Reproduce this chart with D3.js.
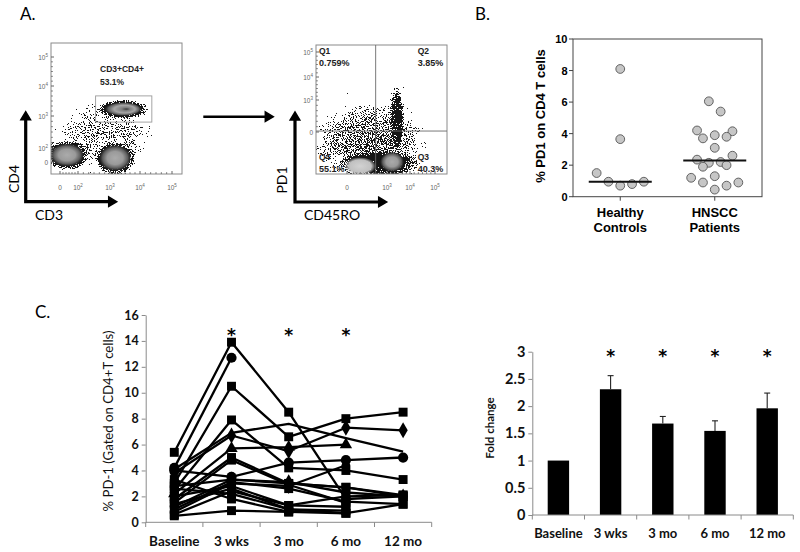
<!DOCTYPE html>
<html>
<head>
<meta charset="utf-8">
<script src="https://cdn.jsdelivr.net/npm/d3@7/dist/d3.min.js"></script>
<style>
body{margin:0;background:#fff;}
svg{display:block;}
</style>
</head>
<body>
<svg id="fig" width="800" height="552" viewBox="0 0 800 552"></svg>
<script>
// ================= DATA =================
// Panel A – flow cytometry (decade units: 0 = "0", n = 10^n)
const flowTicksA1 = [0, 2, 3, 4, 5];
const flowTicksA2 = [0, 3, 4, 5];
const cd4Populations = [
  {name: "haze", x: 2.84, y: 2.41},
  {name: "dn",   x: 0.78, y: 1.0},
  {name: "cd3",  x: 3.17, y: 0.57},
  {name: "cd4",  x: 3.43, y: 3.23}
];
const cd4Gate = {x0: 2.55, x1: 4.37, y0: 2.81, y1: 3.67};
const gateLabel = ["CD3+CD4+", "53.1%"];
const pd1Populations = [
  {name: "haze",  x: 1.7,  y: -0.75},
  {name: "band",  x: 2.33, y: -2.9},
  {name: "tail",  x: 3.43, y: 0.94},
  {name: "q4",    x: 0.98, y: -3.2},
  {name: "q3",    x: 3.22, y: -2.8}
];
const quadrantSplit = {x: 2.15, y: 0.09};
const quadrantNames = ["Q1", "Q2", "Q3", "Q4"];
const quadrantPct = ["0.759%", "3.85%", "40.3%", "55.1%"];

// Panel B – % PD1 on CD4 T cells
const groups = ["Healthy Controls", "HNSCC Patients"];
const healthyPD1 = [8.1, 3.65, 1.5, 0.95, 0.7, 0.8, 0.95];
const healthySlot = [0, 0, -4, -2, 0, 2, 4];
const hnsccPD1 = [6.05, 5.4, 4.2, 4.15, 3.7, 3.9, 3.8, 3.1, 2.35, 2.6, 2.15, 2.2, 1.9, 2.0, 1.2, 1.3, 0.9, 0.9, 0.7, 0.45];
const hnsccSlot = [-1, 1, -3, 3, -2, 0, 2, 0, -3, 3, -1, 1, -2, 2, -4, 0, -2, 4, 2, 0];
const groupMedians = [0.95, 2.3];
const pd1Ticks = [0, 2, 4, 6, 8, 10];

// Panel C – timecourse
const timepoints = ["Baseline", "3 wks", "3 mo", "6 mo", "12 mo"];
const patientPD1 = [
  [5.4, 13.9, 8.5, 1.8, 2.0],
  [4.2, 12.7, null, null, null],
  [3.0, 10.5, 6.6, 8.0, 8.5],
  [2.5, 7.9, 4.2, 4.0, 3.3],
  [4.1, 6.9, 7.6, 6.5, 5.45],
  [3.8, 6.7, 5.5, 7.3, 7.1],
  [2.2, 5.7, 5.8, 6.0, null],
  [1.8, 5.0, 3.0, 2.7, 2.1],
  [1.5, 4.8, 2.9, 1.5, null],
  [4.0, 3.5, 4.6, 4.8, 5.0],
  [1.2, 3.3, 3.1, 2.3, 2.0],
  [1.0, 3.1, 2.6, 1.6, 1.4],
  [0.8, 3.0, 2.8, 4.4, null],
  [2.0, 2.8, 1.3, 1.2, null],
  [1.4, 2.6, 1.0, 0.9, null],
  [0.6, 2.4, 1.3, 2.0, 2.1],
  [2.6, 2.2, 1.0, 0.7, 1.4],
  [0.5, 0.9, 0.8, 0.7, null],
  [3.3, 1.8, 0.8, null, null],
  [2.8, 3.3, 3.0, 2.7, 2.0]
];
const patientMarker = ["square", "circle", "square", "square", "none", "diamond", "triangle", "square", "square", "circle",
  "diamond", "square", "diamond", "square", "square", "square", "square", "square", "square", "square"];
const pctTicks = [0, 2, 4, 6, 8, 10, 12, 14, 16];
const lineSig = [false, true, true, true, false];

// Fold change bars
const foldMean = [1.0, 2.31, 1.68, 1.545, 1.96];
const foldSEM = [0, 0.25, 0.13, 0.185, 0.28];
const foldTicks = [0, 0.5, 1, 1.5, 2, 2.5, 3];
const foldSig = [false, true, true, true, true];

// ================= DRAW =================
const CAL = "Lato, 'Open Sans', sans-serif";
const ARI = "'Liberation Sans', Arial, sans-serif";
const AXC = "#8a8a8a";
const svg = d3.select("#fig");
svg.append("rect").attr("width", 800).attr("height", 552).attr("fill", "#fff");
const defs = svg.append("defs");

// speckle filter (dot density follows alpha)
const f = defs.append("filter").attr("id", "speck").attr("x", "-5%").attr("y", "-5%")
  .attr("width", "110%").attr("height", "110%").attr("color-interpolation-filters", "sRGB");
f.append("feTurbulence").attr("type", "fractalNoise").attr("baseFrequency", "0.95").attr("numOctaves", 2).attr("seed", 5).attr("result", "n");
f.append("feColorMatrix").attr("in", "n").attr("type", "matrix").attr("values", "0 0 0 0 0 0 0 0 0 0 0 0 0 0 0 1 0 0 0 0").attr("result", "na");
f.append("feComposite").attr("in", "SourceAlpha").attr("in2", "na").attr("operator", "arithmetic")
  .attr("k1", 0).attr("k2", 1).attr("k3", 1.4).attr("k4", -1.05).attr("result", "sum");
f.append("feComponentTransfer").attr("in", "sum").attr("result", "th")
  .append("feFuncA").attr("type", "discrete").attr("tableValues", "0 1 1 1 1 1 1 1");
f.append("feFlood").attr("flood-color", "#161616").attr("result", "fl");
f.append("feComposite").attr("in", "fl").attr("in2", "th").attr("operator", "in");

const hg = defs.append("radialGradient").attr("id", "haloG");
[[0, 1], [0.55, 0.85], [0.8, 0.45], [1, 0]].forEach(s => hg.append("stop").attr("offset", s[0]).attr("stop-color", "#000").attr("stop-opacity", s[1]));
const cg = defs.append("radialGradient").attr("id", "coreG");
[[0, "#ababab", 1], [0.5, "#9a9a9a", 1], [0.78, "#5e5e5e", 1], [0.92, "#303030", 0.8], [1, "#303030", 0]].forEach(s =>
  cg.append("stop").attr("offset", s[0]).attr("stop-color", s[1]).attr("stop-opacity", s[2]));
const cg2 = defs.append("radialGradient").attr("id", "coreL");
[[0, "#d2d2d2", 1], [0.7, "#c0c0c0", 1], [1, "#c0c0c0", 0]].forEach(s =>
  cg2.append("stop").attr("offset", s[0]).attr("stop-color", s[1]).attr("stop-opacity", s[2]));
const cg3 = defs.append("radialGradient").attr("id", "coreD").attr("fx", "0.6");
[[0, "#3a3a3a", 1], [0.22, "#7e7e7e", 1], [0.55, "#a6a6a6", 1], [0.82, "#5a5a5a", 1], [1, "#202020", 0]].forEach(s =>
  cg3.append("stop").attr("offset", s[0]).attr("stop-color", s[1]).attr("stop-opacity", s[2]));

// panel letters
svg.append("text").attr("x", 20).attr("y", 20).attr("font-family", CAL).attr("font-size", 17).text("A.");
svg.append("text").attr("x", 475).attr("y", 20).attr("font-family", CAL).attr("font-size", 17).text("B.");
svg.append("text").attr("x", 35).attr("y", 318).attr("font-family", CAL).attr("font-size", 17).text("C.");

// ---------- Panel A ----------
function tickLabel(sel, d) {
  if (d === 0) { sel.text("0"); return; }
  sel.append("tspan").text("10");
  sel.append("tspan").attr("font-size", 4.5).attr("dy", -3).text(d);
}
function arrowHead(g, x, y, dir, s) {
  const pts = dir === "up" ? [[x - s * 0.6, y + s], [x, y], [x + s * 0.6, y + s]]
    : [[x - s, y - s * 0.6], [x, y], [x - s, y + s * 0.6]];
  g.append("path").attr("d", `M${pts[0]}L${pts[1]}L${pts[2]}Z`).attr("fill", "#000").attr("stroke", "#000").attr("stroke-width", 1.5).attr("stroke-linejoin", "miter");
}
function flowPlot(box, fx, fy, ticksX, ticksY, id, pops, shapes) {
  const g = svg.append("g");
  defs.append("clipPath").attr("id", id).append("rect").attr("x", box.x).attr("y", box.y).attr("width", box.w).attr("height", box.h);
  const inner = g.append("g").attr("clip-path", `url(#${id})`);
  pops.forEach(p => {
    const s = shapes[p.name];
    const cx = fx(p.x), cy = fy(p.y);
    if (s.halo) inner.append("ellipse").attr("cx", cx).attr("cy", cy).attr("rx", s.rx * s.halo).attr("ry", s.ry * s.halo)
      .attr("fill", "url(#haloG)").attr("fill-opacity", s.op).attr("filter", "url(#speck)");
  });
  pops.forEach(p => {
    const s = shapes[p.name];
    if (s.core) inner.append("ellipse").attr("cx", fx(p.x)).attr("cy", fy(p.y)).attr("rx", s.rx).attr("ry", s.ry)
      .attr("fill", `url(#${s.core})`);
  });
  g.append("rect").attr("x", box.x).attr("y", box.y).attr("width", box.w).attr("height", box.h)
    .attr("fill", "none").attr("stroke", "#8a8a8a").attr("stroke-width", 1);
  ticksX.forEach(d => {
    g.append("line").attr("x1", fx(d)).attr("x2", fx(d)).attr("y1", box.y + box.h).attr("y2", box.y + box.h - 3).attr("stroke", "#666");
    g.append("text").attr("x", fx(d)).attr("y", box.y + box.h + 16).attr("text-anchor", "middle")
      .attr("font-family", ARI).attr("font-size", 6.5).attr("fill", "#666").call(tickLabel, d);
  });
  ticksY.forEach(d => {
    g.append("line").attr("x1", box.x).attr("x2", box.x + 3).attr("y1", fy(d)).attr("y2", fy(d)).attr("stroke", "#666");
    g.append("text").attr("x", box.x - 3).attr("y", fy(d) + 2.5).attr("text-anchor", "end")
      .attr("font-family", ARI).attr("font-size", 6.5).attr("fill", "#666").call(tickLabel, d);
  });
  for (let i = 0; i < ticksX.length - 1; i++) {
    const a = fx(ticksX[i]), b = fx(ticksX[i + 1]);
    for (let k = 1; k < 6; k++) {
      const xx = a + (b - a) * k / 6;
      g.append("line").attr("x1", xx).attr("x2", xx).attr("y1", box.y + box.h).attr("y2", box.y + box.h - 1.8).attr("stroke", "#777");
    }
  }
  for (let i = 0; i < ticksY.length - 1; i++) {
    const a = fy(ticksY[i]), b = fy(ticksY[i + 1]);
    for (let k = 1; k < 6; k++) {
      const yy = a + (b - a) * k / 6;
      g.append("line").attr("x1", box.x).attr("x2", box.x + 1.8).attr("y1", yy).attr("y2", yy).attr("stroke", "#777");
    }
  }
  return g;
}

// plot 1: CD3 vs CD4
const fx1 = d3.scaleLinear().domain([0, 2, 3, 4, 5]).range([60, 78, 110, 140, 172]);
const fy1 = d3.scaleLinear().domain([0, 2, 3, 4, 5]).range([162, 148, 116, 86, 57]);
const shapes1 = {
  haze: {rx: 52, ry: 38, halo: 1, op: 0.4},
  dn:   {rx: 17, ry: 11.5, halo: 1.45, op: 1, core: "coreG"},
  cd3:  {rx: 16, ry: 13, halo: 1.45, op: 1, core: "coreG"},
  cd4:  {rx: 19, ry: 7, halo: 1.5, op: 1, core: "coreD"}
};
const g1 = flowPlot({x: 51, y: 43, w: 131, h: 131}, fx1, fy1, flowTicksA1, flowTicksA1, "clip1", cd4Populations, shapes1);
g1.append("rect").attr("x", fx1(cd4Gate.x0)).attr("y", fy1(cd4Gate.y1))
  .attr("width", fx1(cd4Gate.x1) - fx1(cd4Gate.x0)).attr("height", fy1(cd4Gate.y0) - fy1(cd4Gate.y1))
  .attr("fill", "none").attr("stroke", "#9a9a9a").attr("stroke-width", 0.9);
g1.append("text").attr("x", 100).attr("y", 72).attr("font-family", ARI).attr("font-weight", "bold").attr("font-size", 8.5).attr("fill", "#222").text(gateLabel[0]);
g1.append("text").attr("x", 100).attr("y", 85).attr("font-family", ARI).attr("font-weight", "bold").attr("font-size", 8.5).attr("fill", "#222").text(gateLabel[1]);

// plot 2: CD45RO vs PD1
const fx2 = d3.scaleLinear().domain([0, 3, 4, 5]).range([347, 387, 410, 435]);
const fy2 = d3.scaleLinear().domain([0, 3, 4, 5]).range([132, 100, 77, 52]);
const shapes2 = {
  haze: {rx: 64, ry: 42, halo: 1, op: 0.5},
  band: {rx: 44, ry: 15, halo: 1.1, op: 0.85},
  tail: {rx: 9, ry: 40, halo: 1, op: 0.8},
  q4:   {rx: 16, ry: 9, core: "coreL"},
  q3:   {rx: 12, ry: 10, core: "coreG"}
};
const g2 = flowPlot({x: 316, y: 45, w: 131, h: 129}, fx2, fy2, flowTicksA2, flowTicksA2, "clip2", pd1Populations, shapes2);
g2.append("line").attr("x1", fx2(quadrantSplit.x)).attr("x2", fx2(quadrantSplit.x)).attr("y1", 45).attr("y2", 174).attr("stroke", "#6a6a6a").attr("stroke-width", 0.9);
g2.append("line").attr("x1", 316).attr("x2", 447).attr("y1", fy2(quadrantSplit.y)).attr("y2", fy2(quadrantSplit.y)).attr("stroke", "#6a6a6a").attr("stroke-width", 0.9);
const qPos = [[319, 53.5], [417.7, 53.5], [417.7, 159.5], [319, 159.5]];
quadrantNames.forEach((q, i) => {
  g2.append("text").attr("x", qPos[i][0]).attr("y", qPos[i][1]).attr("font-family", ARI).attr("font-weight", "bold").attr("font-size", 8.5).attr("fill", "#222").text(q);
  g2.append("text").attr("x", qPos[i][0]).attr("y", qPos[i][1] + 12.5).attr("font-family", ARI).attr("font-weight", "bold").attr("font-size", 9).attr("fill", "#222").text(quadrantPct[i]);
});

// axis arrows
const ga = svg.append("g");
[[25.7, 201.7, 116.7, 111.7], [295, 202, 386.7, 112]].forEach(a => {
  ga.append("path").attr("d", `M${a[0]},${a[3] + 6}V${a[1]}H${a[2] - 6}`).attr("fill", "none").attr("stroke", "#000").attr("stroke-width", 3.2).attr("stroke-linejoin", "miter");
  arrowHead(ga, a[0], a[3], "up", 8);
  arrowHead(ga, a[2], a[1], "right", 8);
});
ga.append("line").attr("x1", 203.3).attr("x2", 267).attr("y1", 116.7).attr("y2", 116.7).attr("stroke", "#000").attr("stroke-width", 2.4);
arrowHead(ga, 273.3, 116.7, "right", 8);
ga.append("text").attr("transform", "translate(18.5,179) rotate(-90)").attr("text-anchor", "middle").attr("font-family", CAL).attr("font-size", 14).text("CD4");
ga.append("text").attr("x", 35).attr("y", 220).attr("font-family", CAL).attr("font-size", 14).text("CD3");
ga.append("text").attr("transform", "translate(287,180) rotate(-90)").attr("text-anchor", "middle").attr("font-family", CAL).attr("font-size", 14).text("PD1");
ga.append("text").attr("x", 304).attr("y", 220).attr("font-family", CAL).attr("font-size", 14).text("CD45RO");

// ---------- Panel B ----------
const gB = svg.append("g");
const xB = d3.scalePoint().domain(groups).range([573, 762]).padding(0.5);
const yB = d3.scaleLinear().domain([0, 10]).range([196.7, 39]);
const jit = d3.scaleLinear().domain([-1, 1]).range([-5.9, 5.9]);
gB.append("rect").attr("x", 573).attr("y", yB(10)).attr("width", 189).attr("height", yB(0) - yB(10))
  .attr("fill", "none").attr("stroke", "#444").attr("stroke-width", 1);
pd1Ticks.forEach(t => {
  gB.append("line").attr("x1", 569).attr("x2", 573).attr("y1", yB(t)).attr("y2", yB(t)).attr("stroke", "#444");
  gB.append("text").attr("x", 567.5).attr("y", yB(t) + 4).attr("text-anchor", "end").attr("font-family", ARI)
    .attr("font-weight", "bold").attr("font-size", 11).text(t);
});
groups.forEach(gname => {
  gB.append("line").attr("x1", xB(gname)).attr("x2", xB(gname)).attr("y1", yB(0)).attr("y2", yB(0) + 4).attr("stroke", "#444");
  const parts = gname.split(" ");
  gB.append("text").attr("x", xB(gname)).attr("y", 217.3).attr("text-anchor", "middle").attr("font-family", ARI).attr("font-weight", "bold").attr("font-size", 13).text(parts[0]);
  gB.append("text").attr("x", xB(gname)).attr("y", 231.7).attr("text-anchor", "middle").attr("font-family", ARI).attr("font-weight", "bold").attr("font-size", 13).text(parts[1]);
});
gB.append("text").attr("transform", "translate(545,116) rotate(-90)").attr("text-anchor", "middle").attr("font-family", ARI)
  .attr("font-weight", "bold").attr("font-size", 13).text("% PD1 on CD4 T cells");
const ptsB = healthyPD1.map((v, i) => ({g: groups[0], v, s: healthySlot[i]}))
  .concat(hnsccPD1.map((v, i) => ({g: groups[1], v, s: hnsccSlot[i]})));
gB.selectAll("circle.pt").data(ptsB).join("circle").attr("class", "pt")
  .attr("cx", d => xB(d.g) + jit(d.s)).attr("cy", d => yB(d.v)).attr("r", 4.4)
  .attr("fill", "#c6c6c6").attr("stroke", "#555").attr("stroke-width", 0.9);
groups.forEach((gname, i) => {
  gB.append("line").attr("x1", xB(gname) - 31.5).attr("x2", xB(gname) + 31.5).attr("y1", yB(groupMedians[i])).attr("y2", yB(groupMedians[i]))
    .attr("stroke", "#111").attr("stroke-width", 2);
});

// ---------- Panel C: lines ----------
const gC = svg.append("g");
const xC = d3.scaleBand().domain(timepoints).range([145.7, 431.7]);
const yC = d3.scaleLinear().domain([0, 16]).range([522.3, 315]);
const cx = t => xC(t) + xC.bandwidth() / 2;
const yAxC = gC.append("g").attr("transform", "translate(145.7,0)")
  .call(d3.axisLeft(yC).tickValues(pctTicks).tickSize(4).tickSizeOuter(0).tickPadding(3));
yAxC.selectAll("path,line").attr("stroke", AXC);
yAxC.selectAll("text").attr("font-family", CAL).attr("font-weight", "bold").attr("font-size", 12.5).attr("fill", "#111");
const xAxC = gC.append("g").attr("transform", "translate(0,522.3)").call(d3.axisBottom(xC).tickSize(0).tickPadding(14));
xAxC.select("path").remove();
xAxC.selectAll("text").attr("font-family", CAL).attr("font-weight", "bold").attr("font-size", 13.5).attr("fill", "#111");
gC.append("line").attr("x1", xC.range()[0]).attr("x2", xC.range()[1]).attr("y1", 522.3).attr("y2", 522.3).attr("stroke", AXC);
d3.range(timepoints.length + 1).forEach(i => {
  const xx = xC.range()[0] + i * xC.step();
  gC.append("line").attr("x1", xx).attr("x2", xx).attr("y1", 522.3).attr("y2", 527).attr("stroke", AXC);
});
gC.append("text").attr("transform", "translate(112.5,421) rotate(-90)").attr("text-anchor", "middle")
  .attr("font-family", CAL).attr("font-size", 13.2).attr("fill", "#111").text("% PD-1 (Gated on CD4+T cells)");
const line = d3.line().defined(d => d.v != null).x(d => cx(d.t)).y(d => yC(d.v));
const symType = {square: d3.symbolSquare, circle: d3.symbolCircle, diamond: d3.symbolDiamond, triangle: d3.symbolTriangle};
const symSize = {square: 80, circle: 82, diamond: 74, triangle: 66};
patientPD1.forEach((vals) => {
  const data = vals.map((v, j) => ({t: timepoints[j], v}));
  gC.append("path").attr("d", line(data)).attr("fill", "none").attr("stroke", "#000").attr("stroke-width", 2.3).attr("stroke-linejoin", "round");
});
patientPD1.forEach((vals, i) => {
  const m = patientMarker[i];
  if (m === "none") return;
  vals.forEach((v, j) => {
    if (v == null) return;
    gC.append("path").attr("d", d3.symbol().type(symType[m]).size(symSize[m])())
      .attr("transform", `translate(${cx(timepoints[j])},${yC(v)})`).attr("fill", "#000");
  });
});
timepoints.forEach((t, i) => {
  if (lineSig[i]) gC.append("text").attr("x", cx(t)).attr("y", 341).attr("text-anchor", "middle")
    .attr("font-family", "'DejaVu Sans', sans-serif").attr("font-weight", "bold").attr("font-size", 17).text("*");
});

// ---------- Panel C: fold change bars ----------
const gD = svg.append("g");
const xD = d3.scaleBand().domain(timepoints).range([532.3, 793.3]).paddingInner(0.59).paddingOuter(0.295);
const yD = d3.scaleLinear().domain([0, 3]).range([515, 351.7]);
const yAxD = gD.append("g").attr("transform", "translate(532.3,0)")
  .call(d3.axisLeft(yD).tickValues(foldTicks).tickFormat(d3.format("")).tickSize(4).tickSizeOuter(0).tickPadding(3));
yAxD.selectAll("path,line").attr("stroke", AXC);
yAxD.selectAll("text").attr("font-family", CAL).attr("font-weight", "bold").attr("font-size", 14.5).attr("fill", "#111");
gD.selectAll("rect.bar").data(foldMean).join("rect").attr("class", "bar")
  .attr("x", (d, i) => xD(timepoints[i])).attr("width", xD.bandwidth())
  .attr("y", d => yD(d)).attr("height", d => yD(0) - yD(d)).attr("fill", "#000");
foldMean.forEach((m, i) => {
  if (!foldSEM[i]) return;
  const xm = xD(timepoints[i]) + xD.bandwidth() / 2;
  gD.append("line").attr("x1", xm).attr("x2", xm).attr("y1", yD(m)).attr("y2", yD(m + foldSEM[i])).attr("stroke", "#222").attr("stroke-width", 1.1);
  gD.append("line").attr("x1", xm - 3).attr("x2", xm + 3).attr("y1", yD(m + foldSEM[i])).attr("y2", yD(m + foldSEM[i])).attr("stroke", "#222").attr("stroke-width", 1.1);
});
gD.append("line").attr("x1", xD.range()[0]).attr("x2", xD.range()[1]).attr("y1", 515).attr("y2", 515).attr("stroke", AXC);
d3.range(timepoints.length + 1).forEach(i => {
  const xx = xD.range()[0] + i * xD.step();
  gD.append("line").attr("x1", xx).attr("x2", xx).attr("y1", 515).attr("y2", 519.5).attr("stroke", AXC);
});
const xAxD = gD.append("g").attr("transform", "translate(0,515)").call(d3.axisBottom(xD).tickSize(0).tickPadding(13.5));
xAxD.select("path").remove();
xAxD.selectAll("text").attr("font-family", CAL).attr("font-weight", "bold").attr("font-size", 13).attr("fill", "#111");
gD.append("text").attr("transform", "translate(494,428) rotate(-90)").attr("text-anchor", "middle")
  .attr("font-family", CAL).attr("font-weight", "bold").attr("font-size", 11.5).attr("fill", "#111").text("Fold change");
timepoints.forEach((t, i) => {
  if (foldSig[i]) gD.append("text").attr("x", xD(t) + xD.bandwidth() / 2).attr("y", 362).attr("text-anchor", "middle")
    .attr("font-family", "'DejaVu Sans', sans-serif").attr("font-weight", "bold").attr("font-size", 17).text("*");
});
</script>
</body>
</html>
